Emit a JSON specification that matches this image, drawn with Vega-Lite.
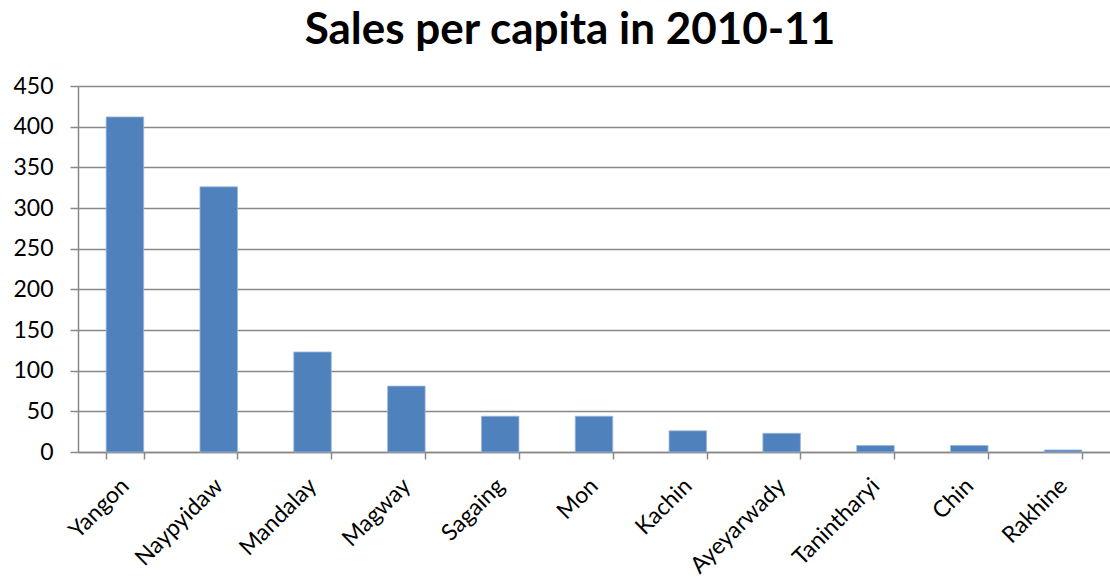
{
  "$schema": "https://vega.github.io/schema/vega-lite/v6.json",
  "autosize": {"type": "none"},
  "padding": {"left": 78, "top": 86, "right": 0, "bottom": 126},
  "width": 1032,
  "height": 366,
  "background": "white",
  "title": {
    "text": "Sales per capita in 2010-11",
    "font": "Lato",
    "fontSize": 44,
    "fontWeight": "bold",
    "color": "black",
    "anchor": "middle",
    "frame": "group",
    "dx": -24,
    "offset": 22
  },
  "data": {
    "values": [
      {"region": "Yangon", "sales": 412},
      {"region": "Naypyidaw", "sales": 326},
      {"region": "Mandalay", "sales": 123},
      {"region": "Magway", "sales": 81},
      {"region": "Sagaing", "sales": 44},
      {"region": "Mon", "sales": 44},
      {"region": "Kachin", "sales": 26},
      {"region": "Ayeyarwady", "sales": 23},
      {"region": "Tanintharyi", "sales": 8},
      {"region": "Chin", "sales": 8},
      {"region": "Rakhine", "sales": 2.5}
    ]
  },
  "mark": {"type": "bar", "color": "#4F81BD", "stroke": "#9DB8DA", "strokeWidth": 0.8},
  "encoding": {
    "x": {
      "field": "region",
      "type": "nominal",
      "sort": null,
      "scale": {"paddingInner": 0.6, "paddingOuter": 0.3},
      "axis": {
        "title": null,
        "labelAngle": -45,
        "labelAlign": "right",
        "labelBaseline": "middle",
        "labelFont": "Lato",
        "labelFontSize": 23,
        "labelColor": "black",
        "labelPadding": 23,
        "tickBand": "extent",
        "tickSize": 7,
        "tickColor": "#888888",
        "tickWidth": 1.5,
        "domainColor": "#888888",
        "domainWidth": 1.5,
        "grid": false
      }
    },
    "y": {
      "field": "sales",
      "type": "quantitative",
      "scale": {"domain": [0, 450], "nice": false},
      "axis": {
        "title": null,
        "values": [0, 50, 100, 150, 200, 250, 300, 350, 400, 450],
        "labelFont": "Lato",
        "labelFontSize": 23,
        "labelColor": "black",
        "labelPadding": 17,
        "tickSize": 8,
        "tickColor": "#888888",
        "tickWidth": 1.5,
        "domainColor": "#888888",
        "domainWidth": 1.5,
        "grid": true,
        "gridColor": "#888888",
        "gridWidth": 1.5
      }
    }
  },
  "config": {"view": {"stroke": null}}
}
